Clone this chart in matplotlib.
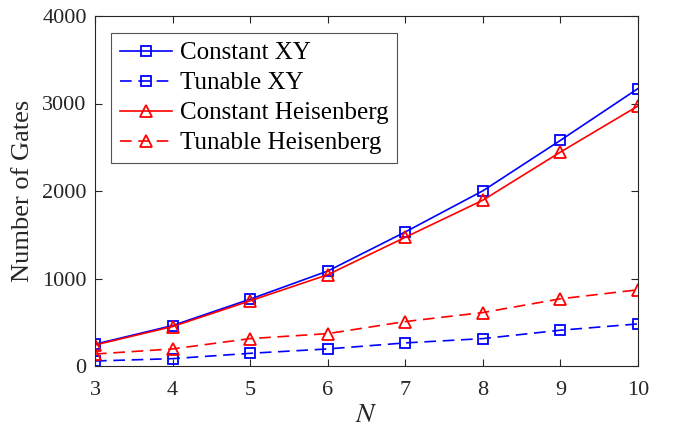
import matplotlib.pyplot as plt

plt.rcParams['font.family'] = ['Liberation Serif', 'DejaVu Serif']
plt.rcParams['mathtext.fontset'] = 'stix'

N = [3, 4, 5, 6, 7, 8, 9, 10]
const_xy = [249, 462, 764, 1085, 1532, 2002, 2579, 3171]
tunable_xy = [57, 84, 145, 195, 264, 313, 409, 481]
const_heis = [240, 451, 745, 1043, 1471, 1895, 2445, 2972]
tunable_heis = [137, 195, 313, 370, 508, 611, 768, 871]

fig = plt.figure(figsize=(6.75, 4.28), dpi=100)
ax = fig.add_axes([95 / 675, 1 - 366 / 428, (638 - 95) / 675, (366 - 16) / 428])

sq = dict(markersize=6.5, markerfacecolor='none', markeredgewidth=1.3, linewidth=1.2)
tri = dict(markersize=8.5, markerfacecolor='none', markeredgewidth=1.3, linewidth=1.2)
ax.plot(N, const_xy, '-s', color='#0000ff', label='Constant XY', **sq)
ax.plot(N, tunable_xy, '--s', color='#0000ff', label='Tunable XY', dashes=(7, 4), **sq)
ax.plot(N, const_heis, '-^', color='#ff0000', label='Constant Heisenberg', **tri)
ax.plot(N, tunable_heis, '--^', color='#ff0000', label='Tunable Heisenberg', dashes=(7, 4), **tri)

ax.set_xlim(3, 10)
ax.set_ylim(0, 4000)
ax.set_xticks(N)
ax.set_yticks([0, 1000, 2000, 3000, 4000])

grey = '#262626'
for s in ax.spines.values():
    s.set_color(grey)
    s.set_linewidth(0.8)
ax.tick_params(direction='in', top=True, right=True, length=5, width=0.8,
               colors=grey, labelsize=16, labelcolor=grey)
ax.tick_params(axis='x', pad=11)
ax.tick_params(axis='y', pad=6)

ax.set_xlabel('$N$', fontsize=20, color=grey, labelpad=2)
ax.set_ylabel('Number of Gates', fontsize=19, color=grey, labelpad=6)

leg = ax.legend(loc='upper left', bbox_to_anchor=(0.0295, 0.951), fontsize=18,
                frameon=True, fancybox=False, handlelength=2.1, borderpad=0.35,
                labelspacing=0.3, handletextpad=0.3, borderaxespad=0)
leg.get_frame().set_edgecolor(grey)
leg.get_frame().set_linewidth(0.8)

fig.savefig('out.png', dpi=100)
